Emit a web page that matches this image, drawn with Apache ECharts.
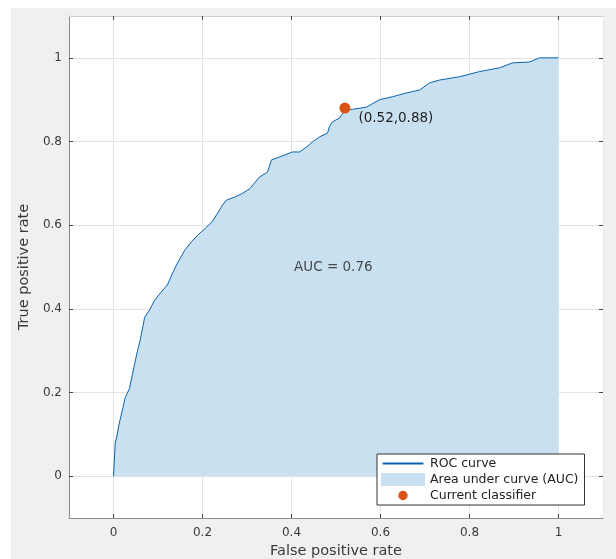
<!DOCTYPE html>
<html>
<head>
<meta charset="utf-8">
<script src="https://cdn.jsdelivr.net/npm/echarts@6/dist/echarts.min.js"></script>
<style>
html,body{margin:0;padding:0;background:#fff;}
#chart{width:616px;height:559px;}
</style>
</head>
<body>
<div id="chart"></div>
<script>
// False positive rate (x) and true positive rate (y)
const fpr = [0, 0.004, 0.007, 0.013, 0.02, 0.026, 0.036, 0.047, 0.054, 0.06, 0.07, 0.081, 0.092, 0.107, 0.115, 0.121, 0.133, 0.144, 0.16, 0.175, 0.19, 0.209, 0.223, 0.234, 0.245, 0.254, 0.272, 0.288, 0.306, 0.328, 0.346, 0.355, 0.373, 0.402, 0.418, 0.434, 0.447, 0.463, 0.481, 0.485, 0.492, 0.508, 0.52, 0.537, 0.568, 0.598, 0.627, 0.658, 0.688, 0.71, 0.733, 0.778, 0.822, 0.867, 0.897, 0.935, 0.957, 1];
const tpr = [0, 0.08, 0.093, 0.127, 0.158, 0.187, 0.21, 0.266, 0.30, 0.325, 0.38, 0.397, 0.42, 0.44, 0.45, 0.457, 0.486, 0.51, 0.54, 0.56, 0.577, 0.595, 0.61, 0.629, 0.648, 0.66, 0.667, 0.675, 0.687, 0.715, 0.727, 0.756, 0.763, 0.775, 0.775, 0.787, 0.799, 0.811, 0.82, 0.835, 0.847, 0.856, 0.875, 0.877, 0.882, 0.9, 0.907, 0.916, 0.923, 0.94, 0.947, 0.955, 0.967, 0.976, 0.988, 0.99, 1.0, 1];
const classifier = [0.52, 0.88];
const aucValue = 0.76;
const aucPos = [0.494, 0.498];
const tickValues = [0, 0.2, 0.4, 0.6, 0.8, 1];
const seriesNames = ['ROC curve', 'Area under curve (AUC)', 'Current classifier'];
const xLabel = 'False positive rate';
const yLabel = 'True positive rate';

const rocData = fpr.map((x, i) => [x, tpr[i]]);

const chart = echarts.init(document.getElementById('chart'), null, {renderer: 'canvas'});

const axisColor = '#8a8a8a';
const textColor = '#3a3a3a';
const fontFamily = 'DejaVu Sans';
const tickFmt = v => (Math.round(v * 10) / 10).toString();

function baseAxis(extra) {
  return Object.assign({
    type: 'value',
    min: -0.1,
    max: 1.1,
    axisLine: {show: true, onZero: false, lineStyle: {color: axisColor, width: 1}},
    axisTick: {show: true, inside: true, length: 4, customValues: tickValues, lineStyle: {color: '#444'}},
    axisLabel: {show: true, customValues: tickValues, color: textColor, fontSize: 12, fontFamily: fontFamily, formatter: tickFmt},
    splitLine: {show: true, lineStyle: {color: '#e3e3e3', width: 1}}
  }, extra);
}

const option = {
  backgroundColor: '#f0f0f0',
  animation: false,
  textStyle: {fontFamily: fontFamily},
  graphic: [
    {type: 'rect', shape: {x: 0, y: 0, width: 11, height: 559}, style: {fill: '#ffffff'}, z: -1},
    {type: 'rect', shape: {x: 0, y: 0, width: 616, height: 8}, style: {fill: '#ffffff'}, z: -1}
  ],
  grid: {left: 69, right: 13, top: 16, bottom: 41, show: true, backgroundColor: '#ffffff', borderWidth: 0,
    containLabel: false, outerBoundsMode: 'none'},
  xAxis: [
    baseAxis({position: 'bottom', name: xLabel, nameLocation: 'middle', nameGap: 25,
      nameTextStyle: {color: textColor, fontSize: 14.5, fontFamily: fontFamily},
      axisLabel: {show: true, customValues: tickValues, color: textColor, fontSize: 12, margin: 9, fontFamily: fontFamily, formatter: tickFmt}}),
    baseAxis({position: 'top', axisLabel: {show: false}, splitLine: {show: false}, axisLine: {show: true, onZero: false, lineStyle: {color: '#cfcfcf'}}})
  ],
  yAxis: [
    baseAxis({position: 'left', name: yLabel, nameLocation: 'middle', nameGap: 29,
      nameTextStyle: {color: textColor, fontSize: 14.5, fontFamily: fontFamily},
      axisLabel: {show: true, customValues: tickValues, color: textColor, fontSize: 12, margin: 7, fontFamily: fontFamily, formatter: tickFmt}}),
    baseAxis({position: 'right', axisLabel: {show: false}, splitLine: {show: false}, axisLine: {show: true, onZero: false, lineStyle: {color: '#e6e6e6'}}})
  ],
  legend: {
    orient: 'vertical',
    left: 377,
    top: 454,
    backgroundColor: '#ffffff',
    borderColor: '#333',
    borderWidth: 1,
    borderRadius: 0,
    padding: [3, 6, 3, 4],
    itemGap: 3,
    itemWidth: 44,
    itemHeight: 13,
    textStyle: {color: '#222', fontSize: 12.5, fontFamily: fontFamily},
    data: [
      {name: seriesNames[0], icon: 'path://M0,0 M0,6 L44,6 L44,8 L0,8 Z M44,14', itemStyle: {color: '#0a63b0'}},
      {name: seriesNames[1], icon: 'rect', itemStyle: {color: '#c9e0f1'}},
      {name: seriesNames[2], icon: 'path://M0,0 M22,7 m-5,0 a5,5 0 1,0 10,0 a5,5 0 1,0 -10,0 M44,14', itemStyle: {color: '#d95319'}}
    ]
  },
  series: [
    {
      name: seriesNames[1],
      type: 'line',
      data: rocData,
      symbol: 'none',
      lineStyle: {width: 0, opacity: 0},
      areaStyle: {color: '#c9e0f1', opacity: 1, origin: 0},
      itemStyle: {color: '#c9e0f1'},
      z: 1
    },
    {
      name: seriesNames[0],
      type: 'line',
      data: rocData,
      symbol: 'none',
      lineStyle: {color: '#0a63b0', width: 1},
      itemStyle: {color: '#0a63b0'},
      z: 2
    },
    {
      name: seriesNames[2],
      type: 'scatter',
      data: [classifier],
      symbolSize: 11,
      itemStyle: {color: '#d95319', opacity: 1},
      label: {
        show: true,
        position: 'right',
        offset: [3, 10],
        color: '#222',
        fontSize: 13.5,
        fontFamily: fontFamily,
        formatter: p => '(' + p.value[0].toFixed(2) + ',' + p.value[1].toFixed(2) + ')'
      },
      z: 3
    },
    {
      name: 'AUC label',
      type: 'scatter',
      data: [aucPos],
      symbolSize: 0,
      silent: true,
      label: {show: true, position: 'inside', color: '#222', fontSize: 13.5, fontFamily: fontFamily,
        formatter: () => 'AUC = ' + aucValue.toFixed(2)},
      z: 3
    }
  ]
};
chart.setOption(option);
</script>
</body>
</html>
